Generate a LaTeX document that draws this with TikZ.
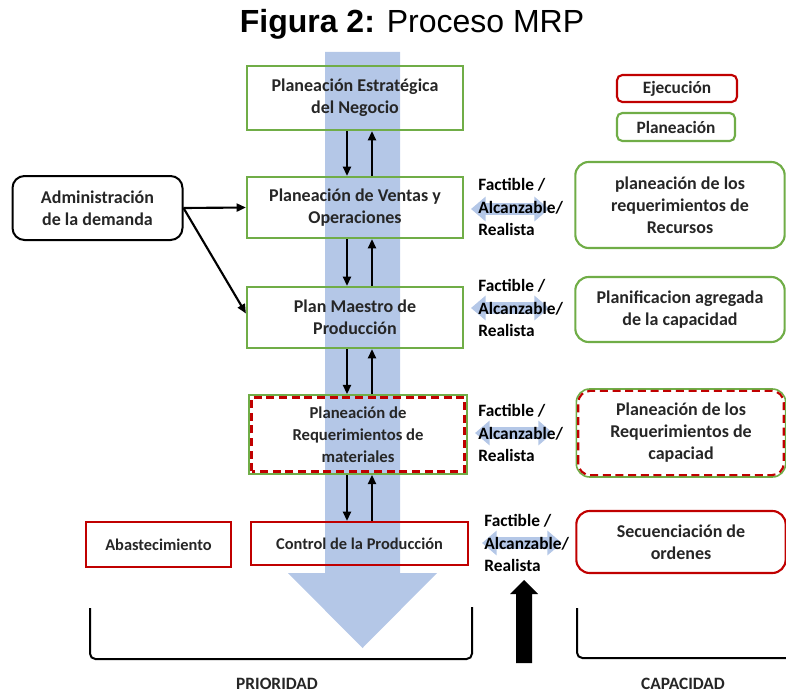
\documentclass[tikz,border=0pt]{standalone}
\usepackage{fontspec}
\setmainfont{Carlito}
\newfontfamily\titlefont{Liberation Sans}
\usetikzlibrary{arrows.meta,positioning,calc}
\definecolor{mgreen}{HTML}{70AD47}
\definecolor{mred}{HTML}{C00000}
\definecolor{mblue}{HTML}{B4C7E7}
\definecolor{mtext}{HTML}{262626}
\tikzset{
  plan/.style={draw=mgreen,line width=1.6pt,align=center,font=\fontsize{13.5}{16.5}\selectfont\bfseries,text=mtext,inner sep=2pt},
  ejec/.style={draw=mred,line width=1.6pt,align=center,font=\fontsize{12.3}{16}\selectfont\bfseries,text=mtext,inner sep=2pt},
  rplan/.style={plan,rounded corners=10pt},
  rejec/.style={ejec,rounded corners=10pt},
  rdash/.style={draw=mred,line width=1.6pt,dash pattern=on 6pt off 3.5pt},
  arr/.style={-{Triangle[length=7pt,width=6pt]},line width=1.6pt,draw=black},
  dbl/.style={draw=mblue,line width=9pt,{Triangle[length=11pt,width=18pt]}-{Triangle[length=11pt,width=18pt]}},
  fac/.style={align=left,anchor=west,font=\fontsize{13}{17}\selectfont\bfseries,text=black,inner sep=0pt},
  brk/.style={line width=1.5pt,rounded corners=4pt},
  lbl/.style={font=\fontsize{13}{16}\selectfont\bfseries,text=mtext},
}
\begin{document}
\begin{tikzpicture}[x=0.75pt,y=-0.75pt]
  \useasboundingbox (0,0) rectangle (786,692);
  \node[font=\titlefont\fontsize{24}{28}\selectfont] (titulo) at (412,24) {\textbf{Figura 2:} Proceso MRP};
  % flecha grande de prioridad
  \fill[mblue] (325,52) -- (400,52) -- (400,573) -- (437,573) -- (362.5,648) -- (288,573) -- (325,573) -- cycle;
  % columna central
  \node[plan,minimum width=162pt,minimum height=48pt] (pe) at (355,98) {Planeación Estratégica\\del Negocio};
  \node[plan,minimum width=162pt,minimum height=45.75pt] (pv) at (355,207.5) {Planeación de Ventas y\\Operaciones};
  \node[plan,minimum width=162pt,minimum height=45.75pt] (pm) at (355,317.5) {Plan Maestro de\\Producción};
  \node[plan,line width=1.2pt,font=\fontsize{12.5}{16.5}\selectfont\bfseries,minimum width=163.5pt,minimum height=59.25pt] (pr) at (358,434.5) {Planeación de\\Requerimientos de\\materiales};
  \draw[rdash] ([shift={(2.5pt,2.5pt)}]pr.south west) rectangle ([shift={(-2.5pt,-2.5pt)}]pr.north east);
  \node[ejec,minimum width=162.75pt,minimum height=32.25pt] (pc) at (359.5,543.5) {Control de la Producción};
  \node[ejec,minimum width=108.75pt,minimum height=33.75pt] (ab) at (158.5,544.5) {Abastecimiento};
  \node[draw=black,line width=1.5pt,rounded corners=9pt,align=center,font=\fontsize{13.5}{16.5}\selectfont\bfseries,text=mtext,minimum width=127.5pt,minimum height=48pt] (ad) at (97.5,208) {Administración\\de la demanda};
  % flechas entre niveles
  \coordinate (dn) at (347,0);
  \coordinate (up) at (372,0);
  \foreach \a/\b in {pe/pv,pv/pm,pm/pr,pr/pc}{
    \draw[arr] (\a.south -| dn) -- (\b.north -| dn);
    \draw[arr] (\b.north -| up) -- (\a.south -| up);
  }
  \draw[arr] (ad.east) -- (pv.west);
  \draw[arr] (ad.east) -- ([yshift=3pt]pm.west);
  % capacidad
  \node[rplan,minimum width=157pt,minimum height=64.5pt] (rr) at (680,205) {planeación de los\\requerimientos de\\Recursos};
  \node[rplan,minimum width=157pt,minimum height=48.75pt] (ra) at (680,309.5) {Planificacion agregada\\de la capacidad};
  \node[rplan,line width=1.2pt,minimum width=157pt,minimum height=66pt] (rc) at (681,433) {Planeación de los\\Requerimientos de\\capaciad};
  \draw[rdash,rounded corners=9pt] ([shift={(2pt,2pt)}]rc.south west) rectangle ([shift={(-2pt,-2pt)}]rc.north east);
  \node[rejec,font=\fontsize{13.5}{16.5}\selectfont\bfseries,minimum width=157pt,minimum height=46.5pt] (rs) at (681,542) {Secuenciación de\\ordenes};
  % factible / alcanzable / realista
  \coordinate (f1a) at (471,209); \coordinate (f1b) at (549,209);
  \coordinate (f2a) at (471,308); \coordinate (f2b) at (549,308);
  \coordinate (f3a) at (475,433); \coordinate (f3b) at (553,433);
  \coordinate (f4a) at (482,543); \coordinate (f4b) at (562,543);
  \foreach \i in {1,...,4}
    \draw[dbl] (f\i a) -- (f\i b);
  \node[fac] (t1) at (478,207) {Factible /\\Alcanzable/\\Realista};
  \node[fac] (t2) at (478,308) {Factible /\\Alcanzable/\\Realista};
  \node[fac] (t3) at (478,433) {Factible /\\Alcanzable/\\Realista};
  \node[fac] (t4) at (484,543) {Factible /\\Alcanzable/\\Realista};
  \fill (516,663) -- (532,663) -- (532,594) -- (538,594) -- (524,580) -- (510,594) -- (516,594) -- cycle;
  % leyenda
  \node[rejec,rounded corners=4pt,font=\fontsize{13}{16}\selectfont\bfseries,minimum width=90pt,minimum height=20.25pt] (le) at (677,88.5) {Ejecución};
  \node[rplan,rounded corners=4pt,font=\fontsize{13}{16}\selectfont\bfseries,minimum width=88.5pt,minimum height=21pt] (lp) at (676,127) {Planeación};
  % llaves
  \draw[brk] (90,608) -- (90,659) -- (472,659) -- (472,607);
  \draw[brk] (577,608) -- (577,658) -- (790,658);
  \node[lbl] (pri) at (277,684) {PRIORIDAD};
  \node[lbl] (cap) at (683,684) {CAPACIDAD};
\end{tikzpicture}
\end{document}
